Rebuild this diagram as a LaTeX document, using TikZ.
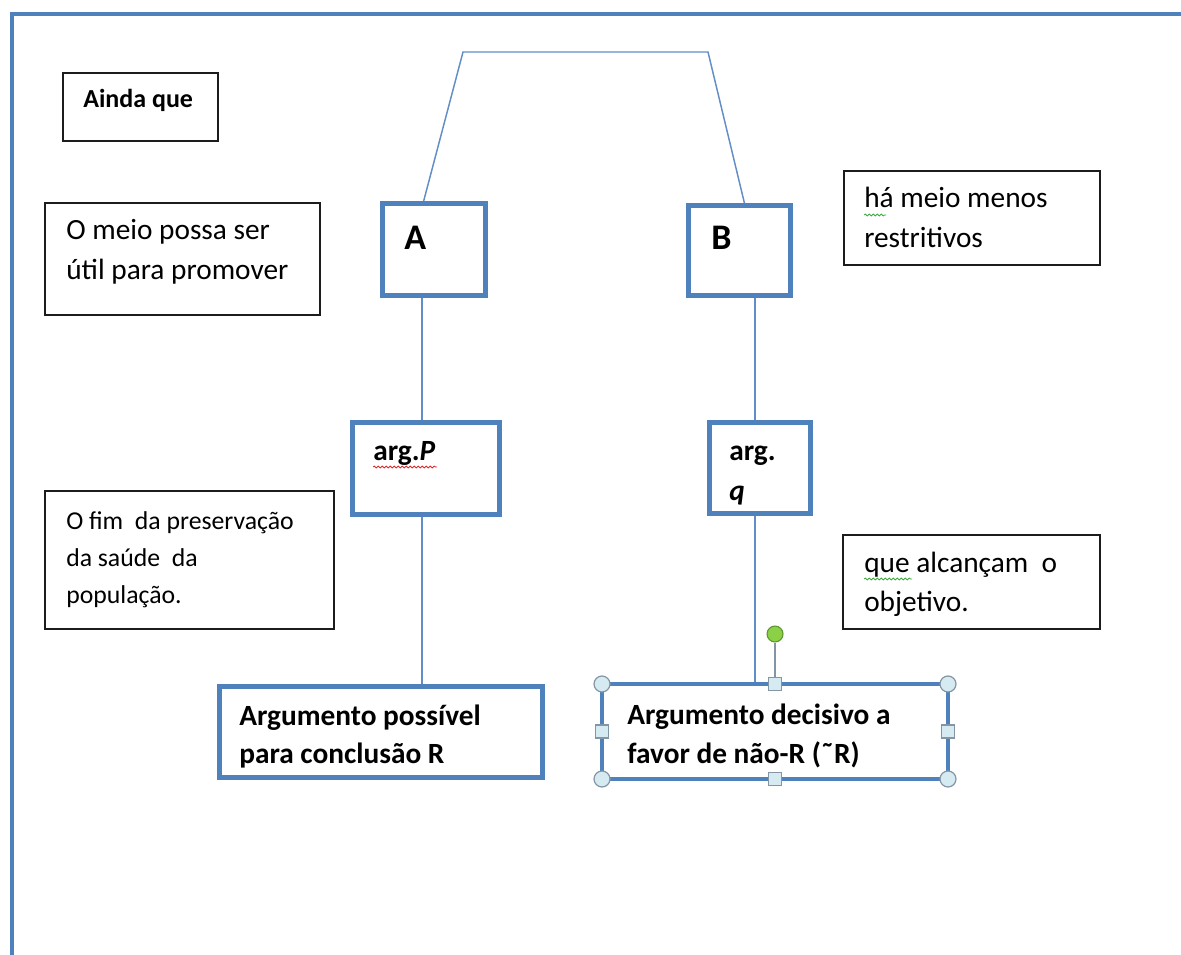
\documentclass[tikz,border=0pt]{standalone}
\usepackage{fontspec}
\setmainfont{Carlito}
\usetikzlibrary{decorations.pathmorphing}
\definecolor{accent}{RGB}{79,129,189}
\definecolor{conn}{RGB}{98,142,200}
\definecolor{ink}{RGB}{28,28,28}
\definecolor{hfill}{RGB}{214,234,242}
\definecolor{hline}{RGB}{132,150,165}
\definecolor{gfill}{RGB}{140,208,70}
\definecolor{gline}{RGB}{92,150,50}
\definecolor{squig}{RGB}{220,40,40}
\definecolor{squigg}{RGB}{60,170,60}
\begin{document}
\begin{tikzpicture}[x=0.75pt,y=-0.75pt,
  sz/.style 2 args={minimum width=#1*0.75pt, minimum height=#2*0.75pt},
  frame/.style={draw=accent, line width=3.4pt},
  bluebox/.style={draw=accent, line width=3.75pt, rectangle, inner sep=0pt, outer sep=0pt, fill=white},
  selbox/.style={draw=accent, line width=3pt, rectangle, inner sep=0pt, outer sep=0pt, fill=white},
  notebox/.style={draw=ink, line width=1.5pt, rectangle, inner sep=0pt, outer sep=0pt, fill=white},
  link/.style={draw=conn, line width=1.1pt},
  txt/.style={anchor=base west, inner sep=0pt, text=black},
  reg/.style={font=\fontsize{22}{26}\selectfont},
  bld/.style={font=\bfseries\fontsize{22}{26}\selectfont},
  small/.style={font=\fontsize{19.3}{23}\selectfont},
  hcirc/.style={circle, inner sep=0pt, minimum size=16*0.75pt, fill=hfill, draw=hline, line width=0.9pt},
  hsq/.style={rectangle, inner sep=0pt, minimum size=13*0.75pt, fill=hfill, draw=hline, line width=0.9pt},
  rotc/.style={circle, inner sep=0pt, minimum size=16*0.75pt, fill=gfill, draw=gline, line width=0.8pt},
  stem/.style={draw=hline, line width=1.6pt},
  wavy/.style={line width=0.6pt, decorate, decoration={snake, amplitude=0.7pt, segment length=3pt}}
]
\useasboundingbox (0,0) rectangle (1181,955);
\fill[white] (0,0) rectangle (1181,955);

% outer frame
\draw[frame] (12,975) -- (12,14) -- (1200,14);

% named coordinates for connector routing
\coordinate (kA) at (423,0);
\coordinate (kB) at (745,0);
\coordinate (t1) at (463,52);
\coordinate (t2) at (708,52);
\coordinate (xL) at (422,0);
\coordinate (xR) at (755,0);

% boxes
\path
  node[bluebox, sz={103}{92}] (A) at (434,249.5) {}
  node[bluebox, sz={102}{90}] (B) at (739.5,250.5) {}
  node[bluebox, sz={147}{92}] (argP) at (426,468.5) {}
  node[bluebox, sz={101}{91}] (argq) at (760,468) {}
  node[bluebox, sz={323}{91}] (poss) at (381,732) {}
  node[selbox, sz={346}{95}] (dec) at (775,731.5) {};

% connectors
\draw[link] (A.north -| kA) -- (t1) -- (t2) -- (B.north -| kB);
\draw[link] (A.south -| xL) -- (argP.north -| xL);
\draw[link] (argP.south -| xL) -- (poss.north -| xL);
\draw[link] (B.south -| xR) -- (argq.north -| xR);
\draw[link] (argq.south -| xR) -- (dec.north -| xR);

% redraw box borders on top of connector ends
\draw[draw=accent, line width=3.75pt] (A.north west) rectangle (A.south east);
\draw[draw=accent, line width=3.75pt] (B.north west) rectangle (B.south east);
\draw[draw=accent, line width=3.75pt] (argP.north west) rectangle (argP.south east);
\draw[draw=accent, line width=3.75pt] (argq.north west) rectangle (argq.south east);
\draw[draw=accent, line width=3.75pt] (poss.north west) rectangle (poss.south east);
\draw[draw=accent, line width=3pt] (dec.north west) rectangle (dec.south east);

% note boxes
\node[notebox, sz={155}{68}] (ainda) at (140.5,107) {};
\node[notebox, sz={275}{112}] (meio) at (182.5,259) {};
\node[notebox, sz={289}{138}] (fim) at (189.5,560) {};
\node[notebox, sz={256}{94}] (ha) at (972,218) {};
\node[notebox, sz={257}{94}] (que) at (971.5,582) {};

% texts
\node[txt, font=\bfseries\fontsize{19.5}{23}\selectfont] (tAinda) at (83,108) {Ainda que};
\node[txt, reg] (tMeio1) at (66,240) {O meio possa ser};
\node[txt, reg] (tMeio2) at (66,280) {útil para promover};
\node[txt, font=\bfseries\fontsize{27}{30}\selectfont] (tA) at (404,250) {A};
\node[txt, font=\bfseries\fontsize{27}{30}\selectfont] (tB) at (711,250) {B};
\node[txt, reg] (tHa1) at (864,208) {há meio menos};
\node[txt, reg] (tHa2) at (864,248) {restritivos};
\node[txt, bld] (tArgP) at (373,460) {arg.\textit{P}};
\node[txt, bld] (tArgq1) at (729,460) {arg.};
\node[txt, bld] (tArgq2) at (729,500) {\textit{q}};
\node[txt, small] (tFim1) at (66,529) {O fim \ da preservação};
\node[txt, small] (tFim2) at (66,566) {da saúde \ da};
\node[txt, small] (tFim3) at (66,603) {população.};
\node[txt, reg] (tQue1) at (864,572) {que alcançam \ o};
\node[txt, reg] (tQue2) at (864,611) {objetivo.};
\node[txt, bld] (tPoss1) at (239,725) {Argumento possível};
\node[txt, bld] (tPoss2) at (239,763) {para conclusão R};
\node[txt, bld] (tDec1) at (627,724) {Argumento decisivo a};
\node[txt, bld] (tDec2) at (627,763) {favor de não-R (\char"02DC R)};

% spell-check squiggles
\draw[wavy, draw=squig] (373,467) -- (437,467);
\draw[wavy, draw=squigg] (864,215) -- (886,215);
\draw[wavy, draw=squigg] (864,579) -- (912,579);

% selection handles
\node[rotc] (rot) at (775,634) {};
\node[hsq] (hN) at (dec.north) {};
\draw[stem] (rot) -- (hN);
\node[hsq] (hS) at (dec.south) {};
\node[hsq] (hW) at (dec.west) {};
\node[hsq] (hE) at (dec.east) {};
\node[hcirc] (hNW) at (dec.north west) {};
\node[hcirc] (hNE) at (dec.north east) {};
\node[hcirc] (hSW) at (dec.south west) {};
\node[hcirc] (hSE) at (dec.south east) {};
\end{tikzpicture}
\end{document}
